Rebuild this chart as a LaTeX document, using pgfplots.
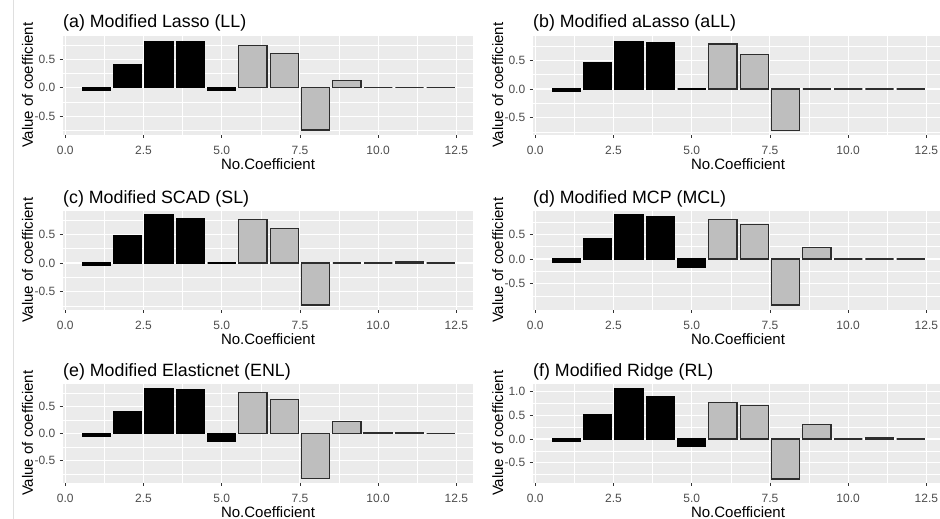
\documentclass[border=0pt]{standalone}
\usepackage{pgfplots}
\pgfplotsset{compat=1.18}
\usepackage{fontspec}
\setmainfont{Liberation Sans}
\definecolor{ggbg}{RGB}{235,235,235}
\definecolor{gggrey}{RGB}{190,190,190}
\definecolor{ggedge}{RGB}{45,45,45}
\definecolor{ggtick}{RGB}{51,51,51}
\definecolor{ggtext}{RGB}{77,77,77}
\pgfplotsset{
  ggpanel/.style={
    scale only axis, width=410pt, height=98.5pt,
    anchor=north west,
    xmin=-0.07, xmax=13.03,
    xtick={0,2.5,5,7.5,10,12.5},
    xticklabels={0.0,2.5,5.0,7.5,10.0,12.5},
    minor xtick={1.25,3.75,6.25,8.75,11.25},
    ytick={-0.5,0,0.5}, yticklabels={-0.5,0.0,0.5},
    minor ytick={-0.75,-0.25,0.25,0.75},
    grid=both,
    major grid style={white, line width=1.1pt},
    minor grid style={white, line width=0.55pt},
    axis background/.style={fill=ggbg},
    axis line style={draw=none},
    tick align=outside,
    xtick pos=bottom, ytick pos=left,
    major tick length=3.3pt,
    minor tick length=0pt,
    tick style={ggtick, line width=0.8pt},
    /pgf/number format/assume math mode=true,
    xticklabel style={font=\fontsize{12}{12}\selectfont, text=ggtext, inner sep=0pt, anchor=north, yshift=-8.5pt},
    yticklabel style={font=\fontsize{12}{12}\selectfont, text=ggtext, inner sep=0pt, anchor=east, xshift=-4.3pt},
    clip=false,
  },
  blackbar/.style={ybar, bar width=0.9, bar shift=0pt, fill=black, draw=black, line width=1.2pt},
  greybar/.style={ybar, bar width=0.9, bar shift=0pt, fill=gggrey, draw=ggedge, line width=1.2pt},
}
\newcommand{\decor}[1]{%
  \path (rel axis cs:0,1) ++(0pt,8pt) node[anchor=base west, inner sep=0pt, font=\fontsize{17.8}{18}\selectfont] {#1};
  \path (rel axis cs:0.5,0) ++(0pt,-35pt) node[anchor=base, inner sep=0pt, font=\fontsize{15}{15}\selectfont] {No.Coefficient};
  \path (rel axis cs:0,0.5) ++(-30pt,0pt) node[anchor=base, inner sep=0pt, rotate=90, font=\fontsize{15}{15}\selectfont] {Value of coefficient};
}
\begin{document}
\begin{tikzpicture}
\useasboundingbox[fill=white] (0pt,0pt) rectangle (940pt,-519pt);
\draw[gray!25, line width=0.8pt] (13pt,0pt) -- (13pt,-519pt);

% (a)
\begin{axis}[ggpanel, at={(63pt,-36pt)}, ymin=-0.82, ymax=0.91]
\addplot[blackbar] coordinates {(1,-0.05) (2,0.41) (3,0.82) (4,0.81) (5,-0.05)};
\addplot[greybar] coordinates {(6,0.75) (7,0.60) (8,-0.74) (9,0.135) (10,0) (11,0) (12,0)};
\decor{(a) Modified Lasso (LL)}
\end{axis}

% (b)
\begin{axis}[ggpanel, at={(533pt,-36pt)}, ymin=-0.79, ymax=0.92]
\addplot[blackbar] coordinates {(1,-0.05) (2,0.46) (3,0.83) (4,0.80) (5,0)};
\addplot[greybar] coordinates {(6,0.78) (7,0.60) (8,-0.715) (9,0) (10,0) (11,0) (12,0)};
\decor{(b) Modified aLasso (aLL)}
\end{axis}

% (c)
\begin{axis}[ggpanel, at={(63pt,-211pt)}, ymin=-0.81, ymax=0.905]
\addplot[blackbar] coordinates {(1,-0.045) (2,0.48) (3,0.84) (4,0.78) (5,0)};
\addplot[greybar] coordinates {(6,0.76) (7,0.60) (8,-0.73) (9,0) (10,0) (11,0.025) (12,0)};
\decor{(c) Modified SCAD (SL)}
\end{axis}

% (d)
\begin{axis}[ggpanel, at={(533pt,-211pt)}, ymin=-1.02, ymax=0.97]
\addplot[blackbar] coordinates {(1,-0.06) (2,0.41) (3,0.89) (4,0.865) (5,-0.16)};
\addplot[greybar] coordinates {(6,0.80) (7,0.69) (8,-0.93) (9,0.24) (10,0) (11,0) (12,0)};
\decor{(d) Modified MCP (MCL)}
\end{axis}

% (e)
\begin{axis}[ggpanel, at={(63pt,-384pt)}, ymin=-0.90, ymax=0.92]
\addplot[blackbar] coordinates {(1,-0.055) (2,0.41) (3,0.84) (4,0.82) (5,-0.14)};
\addplot[greybar] coordinates {(6,0.76) (7,0.63) (8,-0.83) (9,0.225) (10,0.02) (11,0.015) (12,0)};
\decor{(e) Modified Elasticnet (ENL)}
\end{axis}

% (f)
\begin{axis}[ggpanel, at={(533pt,-384pt)}, ymin=-0.915, ymax=1.155,
  ytick={-0.5,0,0.5,1}, yticklabels={-0.5,0.0,0.5,1.0}]
\addplot[blackbar] coordinates {(1,-0.05) (2,0.51) (3,1.06) (4,0.88) (5,-0.15)};
\addplot[greybar] coordinates {(6,0.76) (7,0.70) (8,-0.84) (9,0.30) (10,0) (11,0.02) (12,0)};
\decor{(f) Modified Ridge (RL)}
\end{axis}
\end{tikzpicture}
\end{document}
